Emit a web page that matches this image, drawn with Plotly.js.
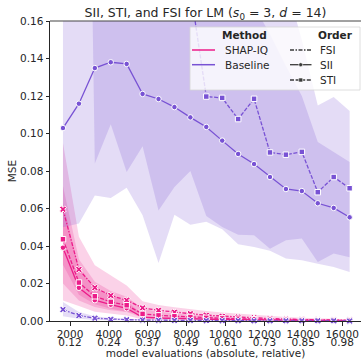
<!DOCTYPE html>
<html><head><meta charset="utf-8">
<script src="https://cdn.plot.ly/plotly-3.0.1.min.js"></script>
<style>html,body{margin:0;padding:0;background:#fff;} #chart{width:361px;height:360px;}</style>
</head><body><div id="chart"></div>
<script>
// ---- data ----
const budgets = [1638, 2458, 3277, 4096, 4915, 5734, 6554, 7373, 8192, 9011, 9830, 10650, 11469, 12288, 13107, 13926, 14746, 15565, 16384];
const xTickVals = [2000, 4000, 6000, 8000, 10000, 12000, 14000, 16000];
const xTickAbs = ["2000", "4000", "6000", "8000", "10000", "12000", "14000", "16000"];
const xTickRel = ["0.12", "0.24", "0.37", "0.49", "0.61", "0.73", "0.85", "0.98"];
const yTickVals = [0, 0.02, 0.04, 0.06, 0.08, 0.10, 0.12, 0.14, 0.16];

// SHAP-IQ
const shapiqFSI   = [0.0596, 0.0275, 0.0178, 0.0136, 0.0111, 0.0070, 0.0057, 0.0047, 0.0039, 0.0031, 0.0025, 0.0021, 0.0017, 0.0013, 0.0010, 0.0008, 0.0006, 0.0005, 0.0004];
const shapiqFSIHi = [0.095, 0.045, 0.0297, 0.0244, 0.019, 0.0105, 0.0085, 0.0073, 0.0062, 0.0053, 0.0046, 0.0039, 0.0032, 0.0026, 0.0021, 0.0017, 0.0014, 0.0011, 0.0009];
const shapiqFSILo = [0.030, 0.014, 0.009, 0.0065, 0.005, 0.0035, 0.0028, 0.0023, 0.0019, 0.0015, 0.0012, 0.0010, 0.0008, 0.0006, 0.0005, 0.0004, 0.0003, 0.0002, 0.0002];
const shapiqSTI   = [0.0436, 0.0205, 0.0132, 0.0102, 0.0084, 0.0038, 0.0030, 0.0025, 0.0021, 0.0017, 0.0014, 0.0012, 0.0009, 0.0007, 0.0006, 0.0005, 0.0004, 0.0003, 0.0002];
const shapiqSTIHi = [0.072, 0.033, 0.021, 0.016, 0.013, 0.0065, 0.005, 0.0041, 0.0034, 0.0028, 0.0023, 0.0019, 0.0015, 0.0012, 0.0010, 0.0008, 0.0006, 0.0005, 0.0004];
const shapiqSTILo = [0.020, 0.011, 0.0075, 0.0058, 0.0048, 0.0018, 0.0014, 0.0012, 0.0010, 0.0008, 0.0007, 0.0006, 0.0004, 0.0003, 0.0003, 0.0002, 0.0002, 0.0001, 0.0001];
const shapiqSII   = [0.0391, 0.0177, 0.0111, 0.0087, 0.0068, 0.0020, 0.0016, 0.0013, 0.0011, 0.0009, 0.0008, 0.0007, 0.0006, 0.0005, 0.0004, 0.0003, 0.0003, 0.0002, 0.0002];
const shapiqSIIHi = [0.063, 0.028, 0.0175, 0.0135, 0.0105, 0.0035, 0.0028, 0.0023, 0.0019, 0.0016, 0.0014, 0.0012, 0.0010, 0.0009, 0.0007, 0.0006, 0.0005, 0.0004, 0.0004];
const shapiqSIILo = [0.011, 0.008, 0.005, 0.004, 0.003, 0.0008, 0.0006, 0.0005, 0.0004, 0.0003, 0.0003, 0.0002, 0.0002, 0.0002, 0.0001, 0.0001, 0.0001, 0.0001, 0.0001];

// Baseline
const baseFSI   = [0.0061, 0.0029, 0.0015, 0.0009, 0.0007, 0.0005, 0.0004, 0.0003, 0.0003, 0.0002, 0.0002, 0.0002, 0.0001, 0.0001, 0.0001, 0.0001, 0.0001, 0.0001, 0.0000];
const baseFSIHi = [0.0101, 0.0048, 0.0026, 0.0016, 0.0012, 0.0009, 0.0007, 0.0006, 0.0005, 0.0004, 0.0004, 0.0003, 0.0003, 0.0002, 0.0002, 0.0002, 0.0002, 0.0001, 0.0001];
const baseFSILo = [0.0025, 0.0012, 0.0006, 0.0004, 0.0003, 0.0002, 0.0002, 0.0001, 0.0001, 0.0001, 0.0001, 0.0001, 0, 0, 0, 0, 0, 0, 0];
const baseSII   = [0.1029, 0.1159, 0.1349, 0.1380, 0.1371, 0.1211, 0.1184, 0.1141, 0.1086, 0.1035, 0.0962, 0.0891, 0.0837, 0.0768, 0.0704, 0.0693, 0.0628, 0.0603, 0.0553];
const baseSIIHi = [0.20, 0.21, 0.22, 0.22, 0.21, 0.20, 0.19, 0.185, 0.18, 0.178, 0.175, 0.172, 0.168, 0.153, 0.136, 0.120, 0.0955, 0.090, 0.0848];
const baseSIILo = [0.050, 0.052, 0.067, 0.0656, 0.0711, 0.0564, 0.031, 0.0567, 0.0514, 0.0530, 0.0490, 0.0410, 0.0395, 0.0375, 0.0333, 0.0324, 0.0306, 0.0288, 0.0261];
const baseSTI   = [1.8, 1.5, 0.45, 0.40, 0.33, 0.28, 0.24, 0.20, 0.177, 0.1197, 0.1190, 0.1077, 0.1185, 0.0899, 0.0887, 0.0902, 0.0687, 0.0768, 0.0708];
const baseSTIHi = [2.4, 1.9, 1.0, 0.8, 0.6, 0.5, 0.4, 0.35, 0.30, 0.28, 0.26, 0.24, 0.22, 0.20, 0.18, 0.15, 0.115, 0.1195, 0.112];
const baseSTILo = [1.2, 1.1, 0.084, 0.105, 0.0795, 0.0932, 0.059, 0.0715, 0.080, 0.0560, 0.0501, 0.0460, 0.0457, 0.0386, 0.0431, 0.0440, 0.0315, 0.036, 0.034];

// ---- styles ----
const PINK = 'rgb(236,28,138)', PINK_BAND = 'rgba(236,28,138,0.2)';
const PURPLE = 'rgb(120,82,212)', PURPLE_BAND = 'rgba(120,82,212,0.2)';
const FONT = 'DejaVu Sans';
const INK = '#262626';

function band(lo, hi, fc) {
  return {x: budgets.concat(budgets.slice().reverse()), y: hi.concat(lo.slice().reverse()),
    type: 'scatter', mode: 'lines', fill: 'toself', fillcolor: fc, line: {width: 0},
    hoverinfo: 'skip', showlegend: false};
}
function line(y, color, dash, symbol, size, clip) {
  return {x: budgets, y: y, type: 'scatter', mode: 'lines+markers',
    line: {color: color, width: 1.3, dash: dash},
    marker: {symbol: symbol, size: size, color: color, line: {color: 'white', width: 1}},
    cliponaxis: clip, hoverinfo: 'skip', showlegend: false};
}
const DASH_STI = '4px,1.6px';
const DASH_FSI = '4px,1.5px,1.5px,1.5px';

const traces = [
  band(shapiqFSILo, shapiqFSIHi, PINK_BAND),
  band(shapiqSIILo, shapiqSIIHi, PINK_BAND),
  band(shapiqSTILo, shapiqSTIHi, PINK_BAND),
  band(baseFSILo, baseFSIHi, PURPLE_BAND),
  band(baseSIILo, baseSIIHi, PURPLE_BAND),
  band(baseSTILo, baseSTIHi, PURPLE_BAND),
  line(shapiqFSI, PINK, DASH_FSI, 'x', 6, false),
  line(shapiqSII, PINK, 'solid', 'circle', 5.5, false),
  line(shapiqSTI, PINK, DASH_STI, 'square', 5.5, false),
  line(baseFSI, PURPLE, DASH_FSI, 'x', 6, false),
  line(baseSII, PURPLE, 'solid', 'circle', 5.5, true),
  line(baseSTI, PURPLE, DASH_STI, 'square', 5.5, true)
];
// second row of x tick labels (relative budget) lives on an overlaid axis
traces.push({x: budgets, y: baseSII, xaxis: 'x2', type: 'scatter', mode: 'none', hoverinfo: 'skip', showlegend: false});

// ---- legend (drawn by hand, paper coords) ----
const L = 50, W = 311, T = 21, H = 300;
const px = v => (v - L) / W, py = v => 1 - (v - T) / H;
const rows = [50, 64.7, 80];
const shapes = [
  {type: 'line', xref: 'paper', yref: 'paper', x0: 0, x1: 1, y0: 1, y1: 1, line: {color: '#444', width: 1}},
  {type: 'rect', xref: 'paper', yref: 'paper', x0: px(190), x1: px(360), y0: py(90), y1: py(27),
    fillcolor: 'rgba(255,255,255,0.8)', line: {color: '#d6d6d6', width: 0.8}},
  {type: 'line', xref: 'paper', yref: 'paper', x0: px(192), x1: px(215), y0: py(rows[0]), y1: py(rows[0]), line: {color: PINK, width: 1.5}},
  {type: 'line', xref: 'paper', yref: 'paper', x0: px(192), x1: px(215), y0: py(rows[1]), y1: py(rows[1]), line: {color: PURPLE, width: 1.5}},
  {type: 'line', xref: 'paper', yref: 'paper', x0: px(290), x1: px(311.5), y0: py(rows[0]), y1: py(rows[0]), line: {color: '#3a3a3a', width: 1.3, dash: DASH_FSI}},
  {type: 'line', xref: 'paper', yref: 'paper', x0: px(290), x1: px(311.5), y0: py(rows[1]), y1: py(rows[1]), line: {color: '#3a3a3a', width: 1.3}},
  {type: 'line', xref: 'paper', yref: 'paper', x0: px(290), x1: px(311.5), y0: py(rows[2]), y1: py(rows[2]), line: {color: '#3a3a3a', width: 1.3, dash: DASH_STI}},
  {type: 'circle', xref: 'paper', yref: 'paper', x0: px(298.7), x1: px(302.7), y0: py(rows[1] + 2), y1: py(rows[1] - 2), fillcolor: '#3a3a3a', line: {color: 'white', width: 0.6}},
  {type: 'rect', xref: 'paper', yref: 'paper', x0: px(298.7), x1: px(302.7), y0: py(rows[2] + 2), y1: py(rows[2] - 2), fillcolor: '#3a3a3a', line: {color: 'white', width: 0.6}}
];
function txt(text, x, y, anchor, bold) {
  return {text: bold ? '<b>' + text + '</b>' : text, xref: 'paper', yref: 'paper', x: px(x), y: py(y),
    xanchor: anchor, yanchor: 'middle', showarrow: false, font: {family: FONT, size: 10.5, color: INK}};
}
const annotations = [
  txt('Method', 245, 34.5, 'center', true),
  txt('Order', 335.5, 34.5, 'center', true),
  txt('SHAP-IQ', 223, rows[0], 'left'),
  txt('Baseline', 223, rows[1], 'left'),
  txt('FSI', 318, rows[0], 'left'),
  txt('SII', 318, rows[1], 'left'),
  txt('STI', 318, rows[2], 'left')
];

const XR = [971, 16970];
const layout = {
  width: 361, height: 360,
  margin: {l: 50, r: 0, t: 21, b: 39, pad: 0},
  paper_bgcolor: 'white', plot_bgcolor: 'white',
  font: {family: FONT, size: 10.5, color: INK},
  showlegend: false,
  title: {text: 'SII, STI, and FSI for LM (<i>s</i><sub>0</sub> = 3, <i>d</i> = 14)',
    x: 0.5, xref: 'paper', xanchor: 'center', y: 1 - 13 / 360, yref: 'container', yanchor: 'middle',
    font: {family: FONT, size: 12.5, color: INK}},
  xaxis: {range: XR, tickvals: xTickVals, ticktext: xTickAbs,
    ticks: 'outside', ticklen: 3.5, tickwidth: 1, tickcolor: INK,
    showline: true, linecolor: INK, linewidth: 1, showgrid: false, zeroline: false,
    tickfont: {family: FONT, size: 10.5, color: INK}},
  xaxis2: {range: XR, overlaying: 'x', anchor: 'y', side: 'bottom', tickvals: xTickVals, ticktext: xTickRel,
    ticks: '', ticklabelstandoff: 13, showline: false, showgrid: false, zeroline: false,
    tickfont: {family: FONT, size: 10.5, color: INK},
    title: {text: 'model evaluations (absolute, relative)', font: {family: FONT, size: 10.5, color: INK}, standoff: 1}},
  yaxis: {range: [0, 0.16], tickvals: yTickVals, tickformat: '.2f',
    ticks: 'outside', ticklen: 3.5, tickwidth: 1, tickcolor: INK,
    showline: true, linecolor: INK, linewidth: 1, showgrid: false, zeroline: false,
    tickfont: {family: FONT, size: 10.5, color: INK},
    title: {text: 'MSE', font: {family: FONT, size: 10.5, color: INK}, standoff: 1}},
  shapes: shapes,
  annotations: annotations
};

Plotly.newPlot('chart', traces, layout, {staticPlot: true, displayModeBar: false});
</script>
</body></html>
